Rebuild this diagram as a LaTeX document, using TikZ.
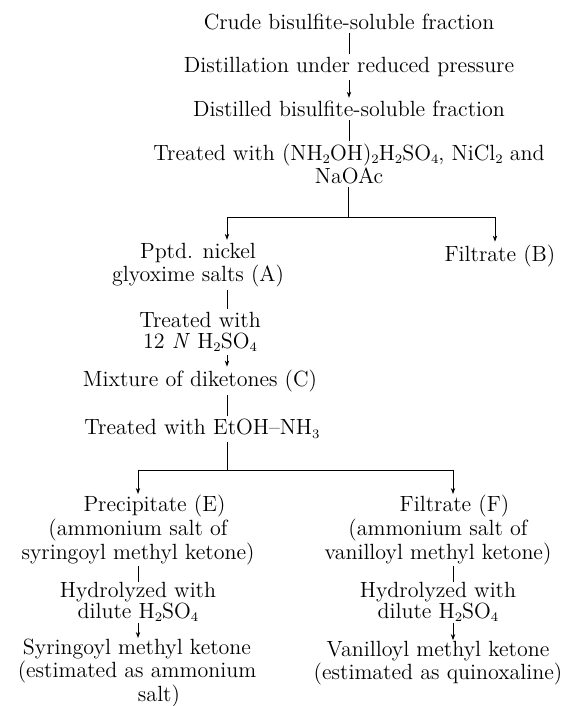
\documentclass[tikz,border=0pt]{standalone}
\usetikzlibrary{arrows.meta}
\newcommand{\sbs}[1]{\raisebox{-0.35ex}{\fontsize{6.5}{6.5}\selectfont #1}}
\begin{document}
\begin{tikzpicture}[x=0.5pt,y=-0.5pt,
  every node/.style={font=\fontsize{11}{10.2}\selectfont, align=center, inner sep=1.5pt},
  tight/.style={inner sep=0.3pt},
  conn/.style={line width=0.4pt},
  arr/.style={conn,-{Stealth[length=3pt,width=2.2pt]}}]
\useasboundingbox (0,0) rectangle (574,706);
% main column
\node (crude) at (349,22) {Crude bisulfite-soluble fraction};
\node (dist) at (349,67) {Distillation under reduced pressure};
\node (distd) at (349,109) {Distilled bisulfite-soluble fraction};
\node (treat1) at (349,164) {Treated with (NH\sbs{2}OH)\sbs{2}H\sbs{2}SO\sbs{4}, NiCl\sbs{2} and\\NaOAc};
\coordinate (j1) at (348,217);
\coordinate (j1L) at (227,217);
\coordinate (j1R) at (495,217);
% second level
\node (pptd) at (198,265) {Pptd. nickel\\glyoxime salts (A)};
\node (filtB) at (500,256) {Filtrate (B)};
\node (treat2) at (200,332) {Treated with\\12 \textit{N} H\sbs{2}SO\sbs{4}};
\node (mix) at (200,381) {Mixture of diketones (C)};
\node (treat3) at (202,429) {Treated with EtOH--NH\sbs{3}};
\coordinate (j2) at (227,470);
\coordinate (j2L) at (138,470);
\coordinate (j2R) at (453,470);
% left branch
\node[tight] (precip) at (138,530) {\hspace*{1.5em}Precipitate (E)\\(ammonium salt of\\syringoyl methyl ketone)};
\node[tight] (hyd1) at (138,602) {Hydrolyzed with\\dilute H\sbs{2}SO\sbs{4}};
\node[tight] (syr) at (137,673) {Syringoyl methyl ketone\\(estimated as ammonium\\\hspace*{2em}salt)};
% right branch
\node[tight] (filtF) at (438,530) {\hspace*{1.5em}Filtrate (F)\\(ammonium salt of\\vanilloyl methyl ketone)};
\node[tight] (hyd2) at (438,602) {Hydrolyzed with\\dilute H\sbs{2}SO\sbs{4}};
\node[tight] (van) at (438,663) {Vanilloyl methyl ketone\\(estimated as quinoxaline)};
% connectors
\draw[conn] (crude) -- (dist);
\draw[arr] (dist) -- (distd);
\draw[conn] (distd) -- (treat1);
\draw[conn] (treat1.south -| j1) -- (j1);
\draw[conn] (j1L) -- (j1R);
\draw[arr] (j1L) -- (j1L |- pptd.north);
\draw[arr] (j1R) -- (j1R |- filtB.north);
\draw[conn] (pptd.south -| j1L) -- (treat2.north -| j1L);
\draw[arr] (treat2.south -| j1L) -- (mix.north -| j1L);
\draw[conn] (mix.south -| j1L) -- (treat3.north -| j1L);
\draw[conn] (treat3.south -| j2) -- (j2);
\draw[conn] (j2L) -- (j2R);
\draw[arr] (j2L) -- (j2L |- precip.north);
\draw[conn] (precip.south -| j2L) -- (hyd1.north -| j2L);
\draw[arr] (hyd1.south -| j2L) -- (syr.north -| j2L);
\draw[arr] (j2R) -- (j2R |- filtF.north);
\draw[conn] (filtF.south -| j2R) -- (hyd2.north -| j2R);
\draw[arr] (hyd2.south -| j2R) -- (van.north -| j2R);
\end{tikzpicture}
\end{document}
